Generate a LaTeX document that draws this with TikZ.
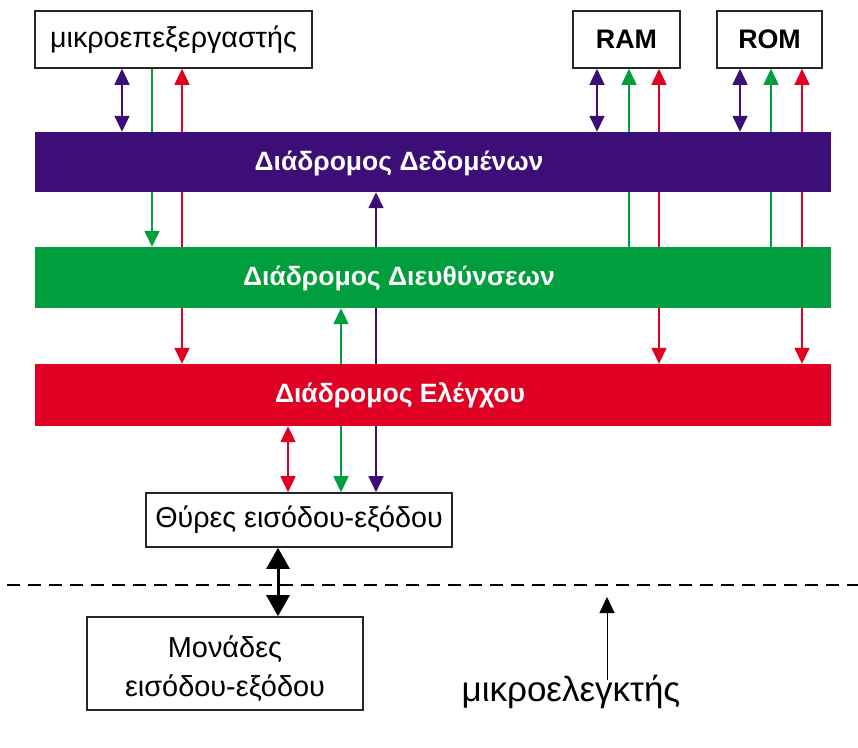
\documentclass[tikz,border=0pt]{standalone}
\usepackage{fontspec}
\setmainfont{Liberation Sans}
\usetikzlibrary{arrows.meta}
\definecolor{busP}{RGB}{62,14,120}
\definecolor{busG}{RGB}{0,158,60}
\definecolor{busR}{RGB}{224,0,36}
\begin{document}
\begin{tikzpicture}[x=1pt,y=-1pt,
  blk/.style={draw=black!85,line width=1.6pt,fill=white,inner sep=0pt,font=\fontsize{28.7}{32}\selectfont},
  bus/.style={inner sep=0pt,minimum width=796pt},
  buslabel/.style={text=white,font=\bfseries\fontsize{26.5}{30}\selectfont,inner sep=0pt},
  ln/.style={line width=1.6pt},
  hd/.style={-{Triangle[width=15pt,length=16pt]}},
  dhd/.style={{Triangle[width=15pt,length=16pt]}-{Triangle[width=15pt,length=16pt]}},
  pp/.style={ln,draw=busP,fill=busP},
  gg/.style={ln,draw=busG,fill=busG},
  rr/.style={ln,draw=busR,fill=busR}]
\useasboundingbox (0,0) rectangle (858,747);
% buses
\node[bus,fill=busP,minimum height=60pt] (data) at (433,162) {};
\node[bus,fill=busG,minimum height=61pt] (addr) at (433,277.5) {};
\node[bus,fill=busR,minimum height=62pt] (ctrl) at (433,395) {};
\node[buslabel] (datal) at (399,163) {Διάδρομος Δεδομένων};
\node[buslabel] (addrl) at (399,278) {Διάδρομος Διευθύνσεων};
\node[buslabel] (ctrll) at (400,395) {Διάδρομος Ελέγχου};
% boxes
\node[blk,minimum width=277pt,minimum height=57pt] (proc) at (173.5,39.5) {μικροεπεξεργαστής};
\node[blk,minimum width=107pt,minimum height=57pt,font=\bfseries\fontsize{26.8}{30}\selectfont] (ram) at (626.5,39.5) {RAM};
\node[blk,minimum width=105pt,minimum height=57pt,font=\bfseries\fontsize{26.8}{30}\selectfont] (rom) at (769.5,39.5) {ROM};
\node[blk,minimum width=306pt,minimum height=54pt] (ports) at (299,520) {Θύρες εισόδου-εξόδου};
\node[blk,minimum width=276pt,minimum height=93pt] (units) at (225,663.5) {};
\node[inner sep=0pt,align=center,font=\fontsize{28.9}{39}\selectfont] (unitst) at (225,669) {Μονάδες\\εισόδου-εξόδου};
\node[inner sep=0pt,font=\fontsize{35}{38}\selectfont] (mc) at (571,692) {μικροελεγκτής};
% dashed separator
\coordinate (dl) at (7,585);
\coordinate (dr) at (858,585);
\draw[line width=1.4pt,dash pattern=on 13pt off 8pt] (dl) -- (dr);
\coordinate (mctip) at (607,597);
\coordinate (mcfoot) at (607,680);
\draw[line width=1pt,-{Triangle[width=15pt,length=16pt]}] (mcfoot) -- (mctip);
% processor
\draw[pp,dhd] (proc.south -| 122,0) -- (data.north -| 122,0);
\draw[gg] (proc.south -| 152,0) -- (data.north -| 152,0);
\draw[rr,hd] (data.north -| 182,0) -- (proc.south -| 182,0);
% RAM
\draw[pp,dhd] (ram.south -| 597,0) -- (data.north -| 597,0);
\draw[gg,hd] (data.north -| 629,0) -- (ram.south -| 629,0);
\draw[rr,hd] (data.north -| 659,0) -- (ram.south -| 659,0);
% ROM
\draw[pp,dhd] (rom.south -| 740,0) -- (data.north -| 740,0);
\draw[gg,hd] (data.north -| 771,0) -- (rom.south -| 771,0);
\draw[rr,hd] (data.north -| 802,0) -- (rom.south -| 802,0);
% data -> address
\draw[gg,hd] (data.south -| 152,0) -- (addr.north -| 152,0);
\draw[rr] (data.south -| 182,0) -- (addr.north -| 182,0);
\draw[pp,hd] (addr.north -| 376,0) -- (data.south -| 376,0);
\draw[gg] (data.south -| 629,0) -- (addr.north -| 629,0);
\draw[rr] (data.south -| 659,0) -- (addr.north -| 659,0);
\draw[gg] (data.south -| 771,0) -- (addr.north -| 771,0);
\draw[rr] (data.south -| 802,0) -- (addr.north -| 802,0);
% address -> control
\draw[rr,hd] (addr.south -| 182,0) -- (ctrl.north -| 182,0);
\draw[gg,hd] (ctrl.north -| 341,0) -- (addr.south -| 341,0);
\draw[pp] (ctrl.north -| 376,0) -- (addr.south -| 376,0);
\draw[rr,hd] (addr.south -| 659,0) -- (ctrl.north -| 659,0);
\draw[rr,hd] (addr.south -| 802,0) -- (ctrl.north -| 802,0);
% control -> ports
\draw[rr,dhd] (ctrl.south -| 288,0) -- (ports.north -| 288,0);
\draw[gg,hd] (ctrl.south -| 341,0) -- (ports.north -| 341,0);
\draw[pp,hd] (ctrl.south -| 376,0) -- (ports.north -| 376,0);
% ports -> units
\draw[line width=3pt,{Triangle[width=23pt,length=21pt]}-{Triangle[width=23pt,length=21pt]}] (ports.south -| 278,0) -- (units.north -| 278,0);
\end{tikzpicture}
\end{document}
